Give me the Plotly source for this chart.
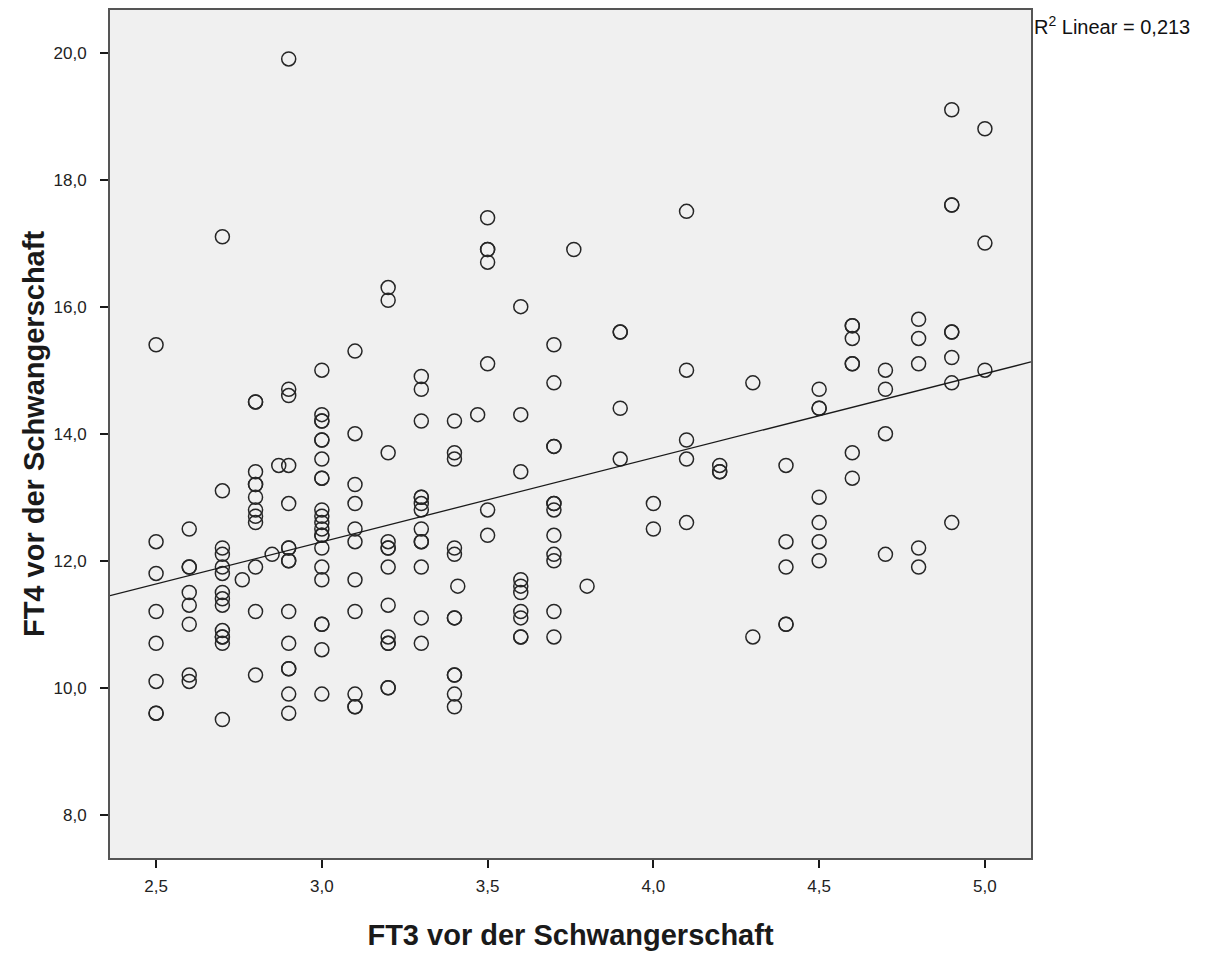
import numpy as np
import plotly.graph_objects as go

# FT4 values grouped by FT3 value
ft4_by_ft3 = {
    2.5: [15.4, 12.3, 11.8, 11.2, 10.7, 10.1, 9.6, 9.6],
    2.6: [12.5, 11.9, 11.9, 11.5, 11.3, 11.0, 10.2, 10.1],
    2.7: [17.1, 13.1, 12.2, 12.1, 11.9, 11.8, 11.5, 11.4, 11.3, 10.9, 10.8, 10.8, 10.7, 9.5],
    2.76: [11.7],
    2.8: [14.5, 14.5, 13.4, 13.2, 13.2, 13.0, 12.8, 12.7, 12.6, 11.9, 11.2, 10.2],
    2.85: [12.1],
    2.87: [13.5],
    2.9: [19.9, 14.7, 14.6, 13.5, 12.9, 12.2, 12.2, 12.0, 12.0, 11.2, 10.7, 10.3, 10.3, 9.9, 9.6],
    3.0: [15.0, 14.3, 14.2, 14.2, 13.9, 13.9, 13.6, 13.3, 13.3, 12.8, 12.7, 12.6, 12.5, 12.4, 12.4,
          12.2, 11.9, 11.7, 11.0, 11.0, 10.6, 9.9],
    3.1: [15.3, 14.0, 13.2, 12.9, 12.5, 12.3, 11.7, 11.2, 9.9, 9.7, 9.7],
    3.2: [16.3, 16.1, 13.7, 12.3, 12.2, 12.2, 11.9, 11.3, 10.8, 10.7, 10.7, 10.0, 10.0],
    3.3: [14.9, 14.7, 14.2, 13.0, 13.0, 12.9, 12.8, 12.5, 12.3, 12.3, 11.9, 11.1, 10.7],
    3.4: [14.2, 13.7, 13.6, 12.2, 12.1, 11.1, 11.1, 10.2, 10.2, 9.9, 9.7],
    3.41: [11.6],
    3.47: [14.3],
    3.5: [17.4, 16.9, 16.9, 16.7, 15.1, 12.8, 12.4],
    3.6: [16.0, 14.3, 13.4, 11.7, 11.6, 11.5, 11.2, 11.1, 10.8, 10.8],
    3.7: [15.4, 14.8, 13.8, 13.8, 12.9, 12.9, 12.8, 12.4, 12.1, 12.0, 11.2, 10.8],
    3.76: [16.9],
    3.8: [11.6],
    3.9: [15.6, 15.6, 14.4, 13.6],
    4.0: [12.9, 12.5],
    4.1: [17.5, 15.0, 13.9, 13.6, 12.6],
    4.2: [13.5, 13.4, 13.4],
    4.3: [14.8, 10.8],
    4.4: [13.5, 12.3, 11.9, 11.0, 11.0],
    4.5: [14.7, 14.4, 14.4, 13.0, 12.6, 12.3, 12.0],
    4.6: [15.7, 15.7, 15.5, 15.1, 15.1, 13.7, 13.3],
    4.7: [15.0, 14.7, 14.0, 12.1],
    4.8: [15.8, 15.5, 15.1, 12.2, 11.9],
    4.9: [19.1, 17.6, 17.6, 15.6, 15.6, 15.2, 14.8, 12.6],
    5.0: [18.8, 17.0, 15.0],
}

ft3 = [k for k, vals in ft4_by_ft3.items() for _ in vals]
ft4 = [v for vals in ft4_by_ft3.values() for v in vals]

x_title = "FT3 vor der Schwangerschaft"
y_title = "FT4 vor der Schwangerschaft"
x_ticks = [2.5, 3.0, 3.5, 4.0, 4.5, 5.0]
y_ticks = [8.0, 10.0, 12.0, 14.0, 16.0, 18.0, 20.0]
x_range = [2.361, 5.139]
y_range = [7.32, 20.67]
r2_label = "0,213"   # R² as printed on the reference

xa = np.array(ft3)
ya = np.array(ft4)
slope, intercept = np.polyfit(xa, ya, 1)
fit_x = np.array(x_range)
fit_y = intercept + slope * fit_x

FONT = "Liberation Sans, Arial, sans-serif"

fig = go.Figure()
fig.add_trace(go.Scatter(
    x=ft3, y=ft4, mode="markers",
    marker=dict(symbol="circle", size=14, color="rgba(0,0,0,0)",
                line=dict(color="#262626", width=1.5)),
    showlegend=False, hoverinfo="x+y"))
fig.add_trace(go.Scatter(
    x=fit_x, y=fit_y, mode="lines",
    line=dict(color="#1a1a1a", width=1.3),
    showlegend=False, hoverinfo="skip"))

axis_common = dict(
    showgrid=False, zeroline=False, showline=True, mirror=True,
    linecolor="#555555", linewidth=2,
    ticks="outside", ticklen=8, tickwidth=1.5, tickcolor="#1a1a1a",
    tickfont=dict(family=FONT, size=17, color="#222222"),
    tickformat=".1f",
)

fig.update_layout(
    width=1200, height=945,
    separators=",.",
    paper_bgcolor="white", plot_bgcolor="#F0F0F0",
    margin=dict(l=102, r=177, t=0, b=95),
    xaxis=dict(range=x_range, tickvals=x_ticks, ticklabelstandoff=4,
               title=dict(text=f"<b>{x_title}</b>", standoff=29,
                          font=dict(family=FONT, size=29, color="#1a1a1a")),
               **axis_common),
    yaxis=dict(range=y_range, tickvals=y_ticks, ticklabelstandoff=10,
               title=dict(text=f"<b>{y_title}</b>", standoff=0,
                          font=dict(family=FONT, size=29, color="#1a1a1a")),
               **axis_common),
    font=dict(family=FONT),
    annotations=[dict(
        text=f"R<sup>2</sup> Linear = {r2_label}",
        xref="paper", yref="paper", x=1.0, y=1.0, xanchor="left", yanchor="top",
        xshift=1, yshift=-1, showarrow=False,
        font=dict(family=FONT, size=20, color="#111111"))],
)

fig.write_html("out.html")
